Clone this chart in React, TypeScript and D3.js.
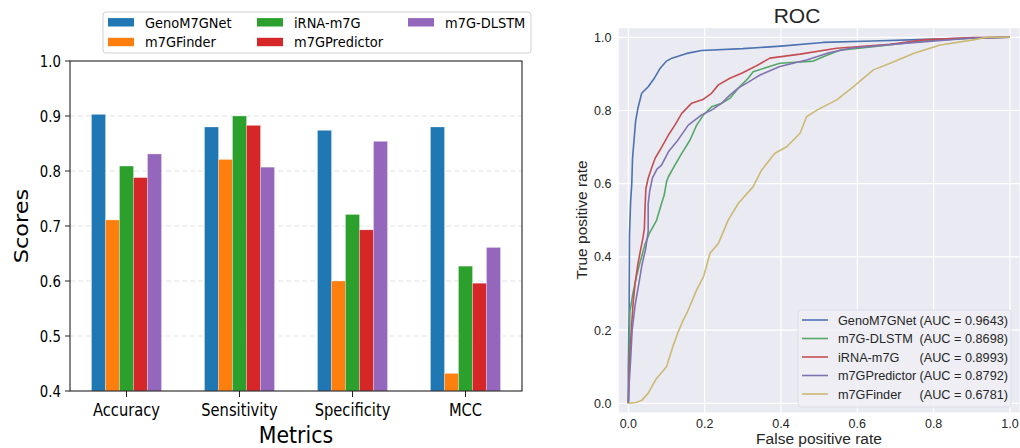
import React from "react";
import * as d3 from "d3";

// ---------- Bar chart data ----------
const metrics = ["Accuracy", "Sensitivity", "Specificity", "MCC"];
const barSeries = ["GenoM7GNet", "m7GFinder", "iRNA-m7G", "m7GPredictor", "m7G-DLSTM"];
const barColors = ["#1f77b4", "#ff7f0e", "#2ca02c", "#d62728", "#9467bd"];
const genoM7GNetScores = [0.903, 0.88, 0.874, 0.88];
const m7GFinderScores = [0.711, 0.821, 0.6, 0.432];
const iRNAm7GScores = [0.809, 0.9, 0.721, 0.627];
const m7GPredictorScores = [0.788, 0.883, 0.693, 0.596];
const m7GDLSTMScores = [0.831, 0.807, 0.854, 0.661];
const barValues = [genoM7GNetScores, m7GFinderScores, iRNAm7GScores, m7GPredictorScores, m7GDLSTMScores];
const scoreTicks = [0.4, 0.5, 0.6, 0.7, 0.8, 0.9, 1.0];

// ---------- ROC data ----------
const rocNames = ["GenoM7GNet", "m7G-DLSTM", "iRNA-m7G", "m7GPredictor", "m7GFinder"];
const rocAucs = ["0.9643", "0.8698", "0.8993", "0.8792", "0.6781"];
const rocColors = ["#4C72B0", "#55A868", "#C44E52", "#8172B2", "#CCB974"];
const genoRoc: [number, number][] = [
  [0, 0], [0.0, 0.1], [0.002, 0.25], [0.003, 0.46], [0.006, 0.55], [0.009, 0.6], [0.011, 0.67],
  [0.015, 0.72], [0.019, 0.77], [0.025, 0.806], [0.035, 0.847], [0.052, 0.865], [0.068, 0.888],
  [0.083, 0.915], [0.1, 0.935], [0.114, 0.943], [0.153, 0.956], [0.192, 0.964], [0.3, 0.969],
  [0.4, 0.976], [0.51, 0.986], [0.64, 0.99], [0.8, 0.995], [1, 1],
];
const dlstmRoc: [number, number][] = [
  [0, 0], [0.002, 0.1], [0.004, 0.25], [0.012, 0.3], [0.022, 0.35], [0.031, 0.387], [0.044, 0.435],
  [0.055, 0.464], [0.074, 0.5], [0.087, 0.546], [0.094, 0.569], [0.1, 0.605], [0.105, 0.619],
  [0.122, 0.651], [0.14, 0.683], [0.162, 0.72], [0.179, 0.76], [0.197, 0.788], [0.218, 0.81],
  [0.245, 0.82], [0.266, 0.833], [0.288, 0.861], [0.314, 0.888], [0.327, 0.906], [0.397, 0.929],
  [0.485, 0.935], [0.511, 0.947], [0.555, 0.965], [0.642, 0.974], [0.773, 0.99], [0.904, 0.998], [1, 1],
];
const irnaRoc: [number, number][] = [
  [0, 0], [0.002, 0.08], [0.005, 0.15], [0.009, 0.22], [0.013, 0.28], [0.018, 0.33], [0.025, 0.38],
  [0.031, 0.414], [0.038, 0.45], [0.042, 0.478], [0.044, 0.54], [0.046, 0.587], [0.052, 0.615],
  [0.06, 0.64], [0.07, 0.669], [0.083, 0.692], [0.105, 0.733], [0.122, 0.76], [0.14, 0.792],
  [0.166, 0.82], [0.197, 0.831], [0.218, 0.847], [0.236, 0.87], [0.266, 0.888], [0.297, 0.902],
  [0.332, 0.92], [0.371, 0.943], [0.45, 0.954], [0.546, 0.97], [0.686, 0.981], [0.773, 0.993],
  [0.904, 0.999], [1, 1],
];
const predictorRoc: [number, number][] = [
  [0, 0], [0.002, 0.05], [0.006, 0.12], [0.01, 0.2], [0.018, 0.27], [0.028, 0.33], [0.036, 0.38],
  [0.045, 0.42], [0.052, 0.47], [0.052, 0.545], [0.056, 0.58], [0.063, 0.615], [0.075, 0.64],
  [0.087, 0.651], [0.105, 0.687], [0.127, 0.715], [0.157, 0.76], [0.192, 0.788], [0.218, 0.801],
  [0.245, 0.82], [0.266, 0.842], [0.288, 0.861], [0.323, 0.883], [0.345, 0.897], [0.397, 0.92],
  [0.467, 0.938], [0.52, 0.956], [0.581, 0.97], [0.729, 0.984], [0.904, 0.998], [1, 1],
];
const finderRoc: [number, number][] = [
  [0, 0], [0.02, 0.002], [0.035, 0.008], [0.052, 0.027], [0.061, 0.045], [0.074, 0.068], [0.1, 0.1],
  [0.118, 0.159], [0.131, 0.196], [0.144, 0.228], [0.155, 0.25], [0.179, 0.31], [0.197, 0.346],
  [0.214, 0.41], [0.236, 0.437], [0.262, 0.501], [0.288, 0.546], [0.327, 0.592], [0.349, 0.637],
  [0.384, 0.683], [0.415, 0.701], [0.45, 0.738], [0.467, 0.783], [0.494, 0.801], [0.546, 0.829],
  [0.59, 0.865], [0.642, 0.911], [0.686, 0.929], [0.747, 0.956], [0.817, 0.979], [0.904, 0.993],
  [0.94, 1.0], [1, 1],
];
const rocCurves = [genoRoc, dlstmRoc, irnaRoc, predictorRoc, finderRoc];
const rateTicks = [0, 0.2, 0.4, 0.6, 0.8, 1.0];

const SY = 1.15; // vertical stretch of the left panel
const DJ = "'DejaVu Sans', sans-serif";
const AR = "'Liberation Sans', Arial, sans-serif";

function ST(props: { x: number; y: number; rot?: number; size: number; anchor?: string; dy?: string; children: any; fill?: string }) {
  const { x, y, rot, size, anchor, dy, children, fill } = props;
  return (
    <text
      transform={`translate(${x},${y}) scale(1,${SY})${rot ? ` rotate(${rot})` : ""}`}
      fontFamily={DJ}
      fontSize={size}
      textAnchor={anchor || "start"}
      dy={dy}
      fill={fill || "#000"}
    >
      {children}
    </text>
  );
}

export default function App() {
  // Left bar chart scales
  const x0 = d3.scaleBand<string>().domain(metrics).range([70, 522]).padding(0);
  const x1 = d3.scaleBand<string>().domain(barSeries).range([-35, 35]).padding(0);
  const y = d3.scaleLinear().domain([0.4, 1.0]).range([391, 61]);

  // ROC scales
  const rx = d3.scaleLinear().domain([-0.025, 1.025]).range([618.8, 1019.5]);
  const ry = d3.scaleLinear().domain([-0.025, 1.025]).range([412.45, 28.15]);
  const line = d3
    .line<[number, number]>()
    .x((d) => rx(d[0]))
    .y((d) => ry(d[1]));

  const legendCols = [[0, 1], [2, 3], [4]];
  const colPatchX = [108, 257, 408];
  const rowY = [22.3, 42];

  return (
    <svg width={1020} height={448} style={{ position: "absolute", left: 0, top: 0, background: "#fff" }}>
      <rect x={0} y={0} width={1020} height={448} fill="#fff" />
      {/* ---------- Left panel ---------- */}
      {scoreTicks.slice(1, -1).map((t) => (
        <line key={"g" + t} x1={70} x2={522} y1={y(t)} y2={y(t)} stroke="#e3e3e3" strokeWidth={1} strokeDasharray="5,3" />
      ))}
      {metrics.map((m, i) =>
        barSeries.map((s, j) => {
          const cx = x0(m)! + x0.bandwidth() / 2;
          const v = barValues[j][i];
          return (
            <rect
              key={m + s}
              x={cx + x1(s)!}
              y={y(v)}
              width={x1.bandwidth()}
              height={y(0.4) - y(v)}
              fill={barColors[j]}
              stroke="#ffffff"
              strokeOpacity={0.45}
              strokeWidth={0.6}
            />
          );
        })
      )}
      <rect x={70} y={61} width={452} height={330} fill="none" stroke="#222" strokeWidth={1.1} />
      {scoreTicks.map((t) => (
        <g key={"yt" + t}>
          <line x1={65} x2={70} y1={y(t)} y2={y(t)} stroke="#222" strokeWidth={1} />
          <ST x={61} y={y(t)} size={13.3} anchor="end" dy="0.364em">
            {t.toFixed(1)}
          </ST>
        </g>
      ))}
      {metrics.map((m) => {
        const cx = x0(m)! + x0.bandwidth() / 2;
        return (
          <g key={"xt" + m}>
            <line x1={cx} x2={cx} y1={391} y2={397} stroke="#222" strokeWidth={1} />
            <ST x={cx} y={416} size={14.7} anchor="middle">
              {m}
            </ST>
          </g>
        );
      })}
      <ST x={296} y={442.5} size={20.5} anchor="middle">
        Metrics
      </ST>
      <ST x={28} y={226} size={19.5} anchor="middle" rot={-90}>
        Scores
      </ST>
      {/* legend */}
      <rect x={103} y={12} width={428} height={41} rx={3} fill="#fff" fillOpacity={0.8} stroke="#d0d0d0" strokeWidth={1} />
      {legendCols.map((col, ci) =>
        col.map((si, ri) => (
          <g key={"lg" + si}>
            <rect x={colPatchX[ci]} y={rowY[ri] - 4.2} width={26} height={8.4} fill={barColors[si]} />
            <ST x={colPatchX[ci] + 37} y={rowY[ri]} size={13} dy="0.364em">
              {barSeries[si]}
            </ST>
          </g>
        ))
      )}

      {/* ---------- Right panel: ROC ---------- */}
      <rect x={618.8} y={28.15} width={1019.5 - 618.8} height={412.45 - 28.15} fill="#EAEAF2" />
      {rateTicks.map((t) => (
        <g key={"rg" + t}>
          <line x1={rx(t)} x2={rx(t)} y1={28.15} y2={412.45} stroke="#fff" strokeWidth={1.2} />
          <line x1={618.8} x2={1019.5} y1={ry(t)} y2={ry(t)} stroke="#fff" strokeWidth={1.2} />
        </g>
      ))}
      {rocCurves.map((c, i) => (
        <path key={"roc" + i} d={line(c) || ""} fill="none" stroke={rocColors[i]} strokeWidth={1.6} strokeLinejoin="round" />
      ))}
      {rateTicks.map((t) => (
        <g key={"rt" + t}>
          <text x={611.5} y={ry(t)} dy="0.36em" textAnchor="end" fontFamily={AR} fontSize={12.5} fill="#262626">
            {t.toFixed(1)}
          </text>
          <text x={rx(t)} y={428.3} textAnchor="middle" fontFamily={AR} fontSize={12.5} fill="#262626">
            {t.toFixed(1)}
          </text>
        </g>
      ))}
      <text x={819} y={444} textAnchor="middle" fontFamily={AR} fontSize={15.5} fill="#262626">
        False positive rate
      </text>
      <text transform={`translate(587,220) rotate(-90)`} textAnchor="middle" fontFamily={AR} fontSize={15.5} fill="#262626">
        True positive rate
      </text>
      <text x={797} y={22.7} textAnchor="middle" fontFamily={AR} fontSize={21} fill="#262626">
        ROC
      </text>
      {/* ROC legend */}
      <rect x={798} y={310} width={213} height={97} rx={3} fill="#EFEFF5" fillOpacity={0.85} stroke="#dddde6" strokeWidth={1} />
      {rocNames.map((n, i) => {
        const yy = 320 + i * 18.5;
        return (
          <g key={"rl" + n}>
            <line x1={802} x2={828} y1={yy} y2={yy} stroke={rocColors[i]} strokeWidth={1.6} />
            <text y={yy} dy="0.36em" fontFamily={AR} fontSize={12.7} fill="#262626">
              <tspan x={838}>{n}</tspan>
              <tspan x={919.5}>{`(AUC = ${rocAucs[i]})`}</tspan>
            </text>
          </g>
        );
      })}
    </svg>
  );
}
